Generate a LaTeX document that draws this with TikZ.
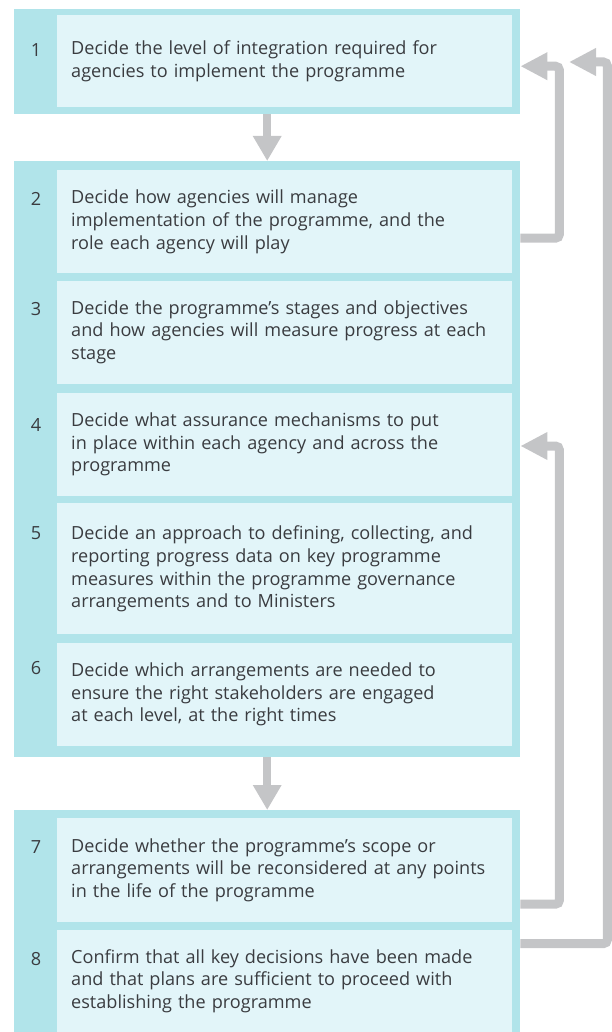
\documentclass[tikz,border=0pt]{standalone}
\usepackage{fontspec}
\setmainfont{Open Sans}
\usetikzlibrary{positioning, arrows.meta, calc}
\definecolor{stripcyan}{HTML}{B1E4EA}
\definecolor{boxcyan}{HTML}{E2F5F9}
\definecolor{arrowgrey}{HTML}{C4C5C7}
\definecolor{textgrey}{HTML}{3A3C40}
\tikzset{
	group/.style={fill=stripcyan, draw=none, anchor=north west, minimum width=506pt, inner sep=0pt},
	item/.style={fill=boxcyan, draw=none, anchor=north west, text width=427pt, inner xsep=14pt, inner ysep=0pt,
		align=left, text=textgrey, font={\fontsize{18.1}{22.7}\selectfont}},
	num/.style={anchor=base, text=textgrey, font={\fontsize{18.1}{22.7}\selectfont}},
	flow/.style={draw=arrowgrey, line width=8pt, -{Triangle[length=25pt, width=27pt]}},
	loopback/.style={draw=arrowgrey, line width=9pt, rounded corners=4pt, -{Triangle[length=27pt, width=26pt]}},
}

\begin{document}
\begin{tikzpicture}[x=1pt, y=-1pt]
	\useasboundingbox (0,0) rectangle (611,1032);

	% groups
	\node[group, minimum height=105pt] (grp1) at (14,9) {};
	\node[group, minimum height=596pt] (grp2) at (14,161) {};
	\node[group, minimum height=222pt] (grp3) at (14,810) {};

	% steps
	\node[item, minimum height=92pt] (b1) at ([xshift=43pt, yshift=-6pt]grp1.north west)
		{Decide the level of integration required for\\agencies to implement the programme};
	\node[item, minimum height=103pt] (b2) at ([xshift=43pt, yshift=-9pt]grp2.north west)
		{Decide how agencies will manage\\implementation of the programme, and the\\role each agency will play};
	\node[item, minimum height=103pt, below=7pt of b2.south west, anchor=north west] (b3)
		{Decide the programme’s stages and objectives\\and how agencies will measure progress at each\\stage};
	\node[item, minimum height=103pt, below=9pt of b3.south west, anchor=north west] (b4)
		{Decide what assurance mechanisms to put\\in place within each agency and across the\\programme};
	\node[item, minimum height=131pt, below=7pt of b4.south west, anchor=north west] (b5)
		{Decide an approach to defining, collecting, and\\reporting progress data on key programme\\measures within the programme governance\\arrangements and to Ministers};
	\node[item, minimum height=103pt, below=8pt of b5.south west, anchor=north west] (b6)
		{Decide which arrangements are needed to\\ensure the right stakeholders are engaged\\at each level, at the right times};
	\node[item, minimum height=104pt] (b7) at ([xshift=43pt, yshift=-8pt]grp3.north west)
		{Decide whether the programme’s scope or\\arrangements will be reconsidered at any points\\in the life of the programme};
	\node[item, minimum height=103pt, below=7pt of b7.south west, anchor=north west] (b8)
		{Confirm that all key decisions have been made\\and that plans are sufficient to proceed with\\establishing the programme};

	% step numbers
	\node[num] (n1) at (36,57) {1};
	\node[num] (n2) at (36,206) {2};
	\node[num] (n3) at (36,315) {3};
	\node[num] (n4) at (36,431) {4};
	\node[num] (n5) at (36,539) {5};
	\node[num] (n6) at (36,674) {6};
	\node[num] (n7) at (36,853) {7};
	\node[num] (n8) at (36,965) {8};

	% arrows
	\draw[flow] (grp1.south) -- (grp2.north);
	\draw[flow] (grp2.south) -- (grp3.north);

	\coordinate (loopB) at (569,62);
	\draw[loopback] ([yshift=-16.5pt]b2.east -| grp2.east) -- ++(39,0) |- ([yshift=-4.5pt]grp1.east);
	\draw[loopback] ([yshift=-34pt]b7.east -| grp3.east) -- ++(39,0) |- ([yshift=-1.5pt]b4.east -| grp2.east);
	\draw[loopback] ([yshift=37.5pt]b8.east -| grp3.east) -- ++(87,0) |- (loopB);
\end{tikzpicture}
\end{document}
